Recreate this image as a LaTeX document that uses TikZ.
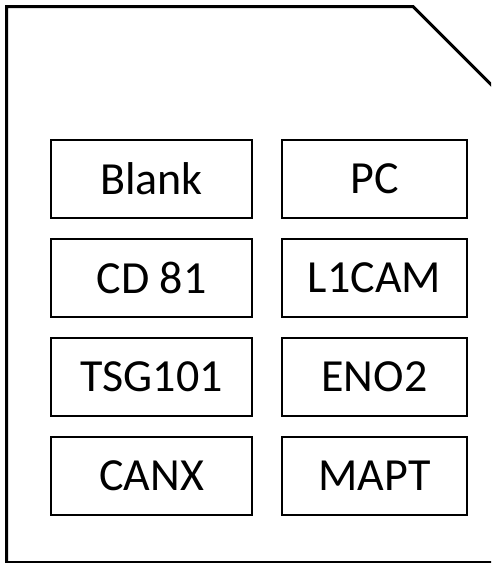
\documentclass[tikz,border=0pt]{standalone}
\usepackage{fontspec}
\setmainfont{Carlito}
\usetikzlibrary{positioning}
\tikzset{
  card/.style={draw=black, line width=3pt, line join=miter},
  marker/.style={rectangle, draw=black, line width=2pt, fill=white,
                 minimum height=78pt, inner sep=0pt, font=\fontsize{46}{50}\selectfont},
  leftbox/.style={marker, minimum width=201pt},
  rightbox/.style={marker, minimum width=185pt},
}

\begin{document}
\begin{tikzpicture}[x=1pt, y=-1pt, node distance=19pt and 28pt]
  \useasboundingbox (0,0) rectangle (491,563);
  \clip (0,0) rectangle (491,563);
  % card outline with clipped corner
  \draw[card] (6.5,562.5) -- (6.5,6.5) -- (413,6.5) -- (497,90.5) -- (497,562.5) -- cycle;

  \node[leftbox]                    (blank) at (151.5,179) {Blank};
  \node[rightbox, right=of blank]   (pc)    {PC};
  \node[leftbox, below=of blank]    (cd)    {CD 81};
  \node[rightbox, right=of cd]      (lcam)  {L1CAM};
  \node[leftbox, below=of cd]       (tsg)   {TSG101};
  \node[rightbox, right=of tsg]     (eno)   {ENO2};
  \node[leftbox, below=of tsg]      (canx)  {CANX};
  \node[rightbox, right=of canx]    (mapt)  {MAPT};
\end{tikzpicture}
\end{document}
